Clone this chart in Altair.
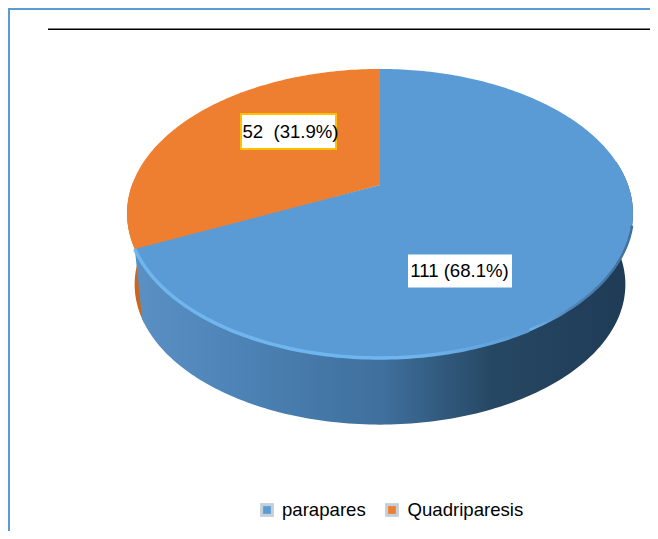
import numpy as np
import pandas as pd
import altair as alt

categories = ["parapares", "Quadriparesis"]
values = [111, 52]
colors = ["#5b9bd5", "#ee7f30"]
label_x = [460, 288.5]
label_y = [271, 131.5]
label_text_x = [459.5, 290.5]
label_w = [104, 95]
label_h = [33, 35]
legend_icon_x = [267, 392]
legend_text_x = [282, 407.5]

# pie projection, chosen to fit the picture (screen pixels)
CX, CY, K, A, B = 380, 185, 0.197, 138.9, 248
BOT_SCALE, BOT_DY = 0.97, 71

total = sum(values)
shares = [v / total for v in values]
ends = np.cumsum(shares) * 360
starts = np.concatenate([[0], ends[:-1]])


def rim(deg, scale=1.0, dy=0.0):
    t = np.radians(deg)
    s, c = np.sin(t), np.cos(t)
    d = 1 + K * c
    return CX + scale * B * s / d, CY - scale * A * c / d + dy + (1 - scale) * 28


def frame(xs, ys):
    return pd.DataFrame({"x": xs, "y": ys, "o": np.arange(len(xs))})


X = alt.Scale(domain=[8, 650], range=[0, 642], nice=False, zero=False)
Y = alt.Scale(domain=[531, 8], range=[523, 0], nice=False, zero=False)
XE = alt.X("x:Q", scale=X, axis=None)
YE = alt.Y("y:Q", scale=Y, axis=None)


def enc(chart):
    return chart.encode(x=XE, y=YE, order="o:Q")


def poly(xs, ys, fill):
    return enc(alt.Chart(frame(xs, ys)).mark_line(fill=fill, strokeWidth=0, stroke="transparent"))


def wall(a, b, fill):
    deg = np.arange(a, b + 0.01, 1.0)
    x1, y1 = rim(deg)
    x2, y2 = rim(deg[::-1], BOT_SCALE, BOT_DY)
    return poly(np.r_[x1, x2], np.r_[y1, y2], fill)


def stops(*pairs):
    return [alt.GradientStop(offset=o, color=c) for o, c in pairs]


layers = []

# orange sliver of side wall
layers.append(wall(ends[0] - 2, 272, "#c9661f"))

# blue side wall with horizontal shading
side = alt.LinearGradient(
    gradient="linear", x1=0, x2=1, y1=0, y2=0,
    stops=stops((0.0, "#5a90c4"), (0.25, "#4a80b2"), (0.5, "#3f6f9c"),
                (0.72, "#264763"), (1.0, "#1f3b56")),
)
layers.append(wall(80, ends[0], side))

# top face wedges: orange first, running under the blue so no seam shows
deg = np.arange(starts[1] - 1, ends[1] + 1.01, 1.0)
x, y = rim(deg)
layers.append(poly(np.r_[CX, x], np.r_[CY, y], colors[1]))
deg = np.arange(starts[0], ends[0] + 0.01, 1.0)
x, y = rim(deg)
layers.append(poly(np.r_[CX, x], np.r_[CY, y], colors[0]))

# soft rim on the front edge of the top face
deg = np.arange(150, ends[0] + 0.01, 1.0)
x, y = rim(deg)
glow = alt.LinearGradient(
    gradient="linear", x1=0, x2=1, y1=0, y2=0,
    stops=stops((0.0, "#6fb6ee"), (0.7, "#6fb6ee"), (1.0, "#5b9bd5")),
)
layers.append(enc(alt.Chart(frame(x, y)).mark_line(stroke=glow, strokeWidth=3.5)))
deg = np.arange(106, 150.01, 1.0)
x, y = rim(deg)
dark = alt.LinearGradient(
    gradient="linear", x1=0, x2=1, y1=0, y2=0,
    stops=stops((0.0, "#6fb6ee"), (0.4, "#4f86b8"), (1.0, "#3f6f9c")),
)
layers.append(enc(alt.Chart(frame(x, y)).mark_line(stroke=dark, strokeWidth=2.5)))

# data labels
lab = pd.DataFrame({
    "x": label_x, "y": label_y, "tx": label_text_x,
    "t": [f"{v} ({s:.1%})" if i == 0 else f"{v}\u00a0\u00a0({s:.1%})"
          for i, (v, s) in enumerate(zip(values, shares))],
})
for i, sc in enumerate(["white", "#ffc000"]):
    layers.append(alt.Chart(lab.iloc[[i]]).mark_rect(
        width=label_w[i], height=label_h[i], fill="white",
        stroke=sc, strokeWidth=2 if i else 0,
    ).encode(x=XE, y=YE))
layers.append(alt.Chart(lab).mark_text(font="Liberation Sans", fontSize=18.6, color="black").encode(
    x=alt.X("tx:Q", scale=X, axis=None), y=YE, text="t:N"))

# legend
leg = pd.DataFrame({"x": legend_icon_x, "y": [510, 510], "tx": legend_text_x, "t": categories, "c": colors})
layers.append(alt.Chart(leg).mark_square(size=190, color="#c5cfd9", opacity=1).encode(x=XE, y=YE))
layers.append(alt.Chart(leg).mark_square(size=60, opacity=1).encode(
    x=XE, y=YE, color=alt.Color("c:N", scale=None)))
layers.append(alt.Chart(leg).mark_text(font="Liberation Sans", fontSize=18.6, align="left", color="black").encode(
    x=alt.X("tx:Q", scale=X, axis=None), y=YE, text="t:N"))

# frame and header rule
one = pd.DataFrame({"a": [0]})
layers.append(alt.Chart(one).mark_rule(color="black", strokeWidth=1.5).encode(
    x=alt.value(40), x2=alt.value(642), y=alt.value(21.25)))
layers.append(alt.Chart(one).mark_rule(color="#5b9bd5", strokeWidth=2).encode(
    x=alt.value(0), x2=alt.value(642), y=alt.value(1)))
layers.append(alt.Chart(one).mark_rule(color="#5b9bd5", strokeWidth=2).encode(
    x=alt.value(1), y=alt.value(0), y2=alt.value(523)))

chart = alt.layer(*layers).properties(
    width=642, height=523, padding=0, autosize=alt.AutoSizeParams(type="none"), background="white"
).configure_view(stroke=None)

chart.save("out.html", embed_options={"renderer": "svg", "actions": False})
